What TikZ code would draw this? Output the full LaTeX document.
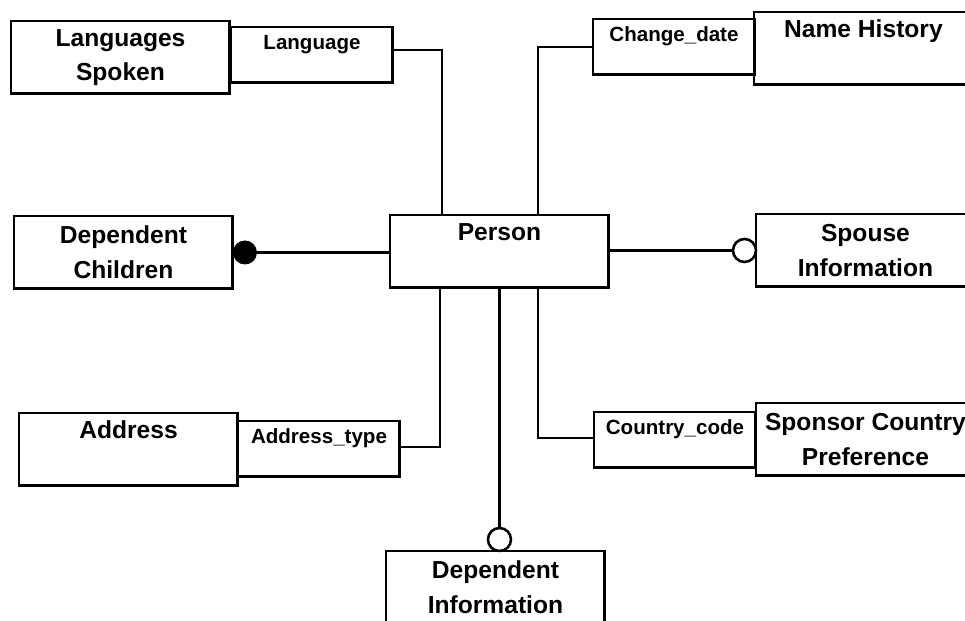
\documentclass[tikz,border=0pt]{standalone}
\usepackage{fontspec}
\setmainfont{Liberation Sans}
\usepackage{tikz}
\usetikzlibrary{calc}

\newcommand{\entfont}{\fontsize{14}{19.8}\selectfont\bfseries}
\newcommand{\keyfont}{\fontsize{11.7}{14}\selectfont\bfseries}

\tikzset{
	entity/.style={draw=black, line width=1.7pt, inner sep=0pt, outer sep=0pt, minimum width=4.38cm, minimum height=1.46cm, anchor=north west, align=center, font=\entfont},
	keybox/.style={draw=black, line width=1.7pt, inner sep=0pt, outer sep=0pt, minimum width=3.24cm, minimum height=1.12cm, anchor=north west},
	enttitle/.style={anchor=base, inner sep=0pt, font=\entfont, yshift=-14.7pt},
	keytitle/.style={anchor=base, inner sep=0pt, font=\keyfont, yshift=-13pt},
	link/.style={draw=black, line width=1.45pt},
	dotmany/.style={circle, fill=black, inner sep=0pt, outer sep=0pt, minimum size=0.48cm},
	circopt/.style={circle, draw=black, fill=white, line width=1.45pt, inner sep=0pt, outer sep=0pt, minimum size=0.46cm}
}

\begin{document}
\begin{tikzpicture}[x=0.02cm,y=-0.02cm]

	%Frame
	\useasboundingbox (0,0) rectangle (965,621);
	\clip (0,0) rectangle (965,621);

	%Entities
	\node[entity] (langs) at (11,21) {Languages\\Spoken};
	\node[entity, label={[enttitle]north:Name History}] (namehist) at (754,12) {};
	\node[entity, label={[enttitle]north:Person}] (person) at (390,215) {};
	\node[entity] (depch) at (14,216) {Dependent\\Children};
	\node[entity] (spouse) at (756,214) {Spouse\\Information};
	\node[entity, label={[enttitle]north:Address}] (address) at (19,413) {};
	\node[entity] (sponsor) at (756,403) {Sponsor Country\\Preference};
	\node[entity] (depinfo) at (386,551) {Dependent\\Information};

	%Keys
	\node[keybox, label={[keytitle]north:Language}] (lang) at (231,27) {};
	\node[keybox, label={[keytitle]north:Change\_date}] (chg) at (593,19) {};
	\node[keybox, label={[keytitle]north:Address\_type}] (addrtype) at (238,421) {};
	\node[keybox, label={[keytitle]north:Country\_code}] (ctry) at (594,412) {};

	%Ends
	\node[dotmany] (dcdot) at ($(depch.east)+(12,0)$) {};
	\node[circopt, anchor=east] (spcirc) at (spouse.west) {};
	\node[circopt, anchor=south] (dicirc) at (person.south |- depinfo.north) {};

	%Links
	\draw[link] ($(lang.east)+(0,-5)$) -| ($(person.north)+(-57.5,0)$);
	\draw[link] (chg.west) -| ($(person.north)+(38.5,0)$);
	\draw[link] ($(addrtype.east)+(0,-2)$) -| ($(person.south)+(-59.5,0)$);
	\draw[link] ($(ctry.west)+(0,-2)$) -| ($(person.south)+(38.5,0)$);
	\draw[link] (dcdot) -- (dcdot -| person.west);
	\draw[link] (spcirc -| person.east) -- (spcirc);
	\draw[link] (person.south) -- (dicirc);

\end{tikzpicture}
\end{document}
